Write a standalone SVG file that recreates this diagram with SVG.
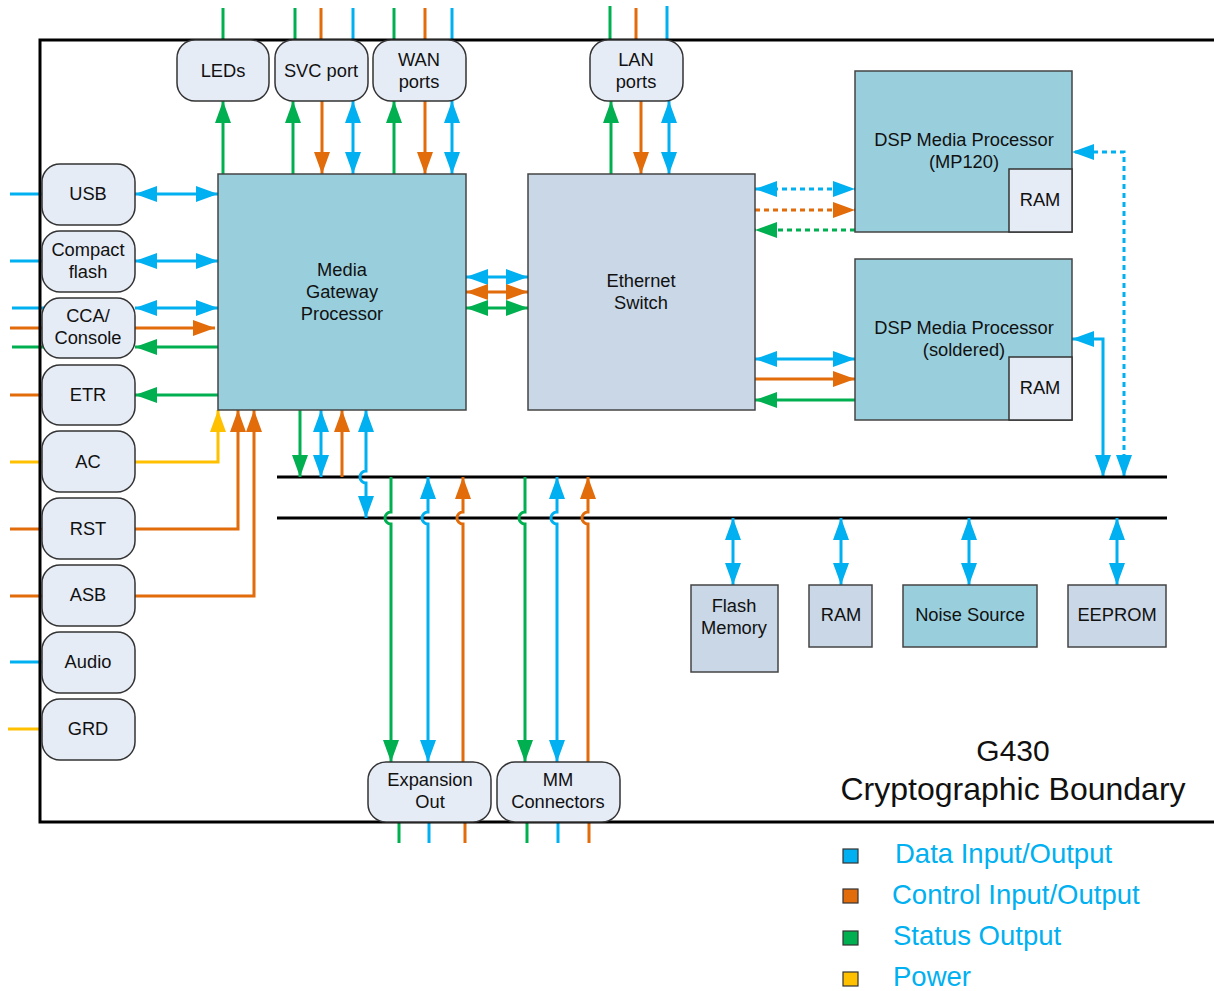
<svg xmlns="http://www.w3.org/2000/svg" width="1214" height="991" viewBox="0 0 1214 991">
<style>
text{font-family:"Liberation Sans",Arial,sans-serif;font-size:18.3px;fill:#111;text-anchor:middle}
.port{fill:#E6ECF6;stroke:#333;stroke-width:1.5}
.teal{fill:#99CFDD;stroke:#444;stroke-width:1.5}
.grey{fill:#C9D7E6;stroke:#444;stroke-width:1.5}
.ramb{fill:#E6ECF6;stroke:#333;stroke-width:1.5}
.c{fill:none;stroke-width:3}
.b{stroke:#00B0F0}.o{stroke:#E26B0A}.g{stroke:#00B050}.y{stroke:#FFC000}
.d{stroke-dasharray:5 4}
.bb{marker-start:url(#mb);marker-end:url(#mb)}
.eb{marker-end:url(#mb)}.eo{marker-end:url(#mo)}.eg{marker-end:url(#mg)}.ey{marker-end:url(#my)}
.so{marker-start:url(#mo)}.sg{marker-start:url(#mg)}
.bo{marker-start:url(#mo);marker-end:url(#mo)}.bg{marker-start:url(#mg);marker-end:url(#mg)}
.leg{font-size:27.5px;fill:#00B0F0;text-anchor:start}
</style>
<defs>
<marker id="mb" viewBox="0 0 22 16" markerWidth="22" markerHeight="16" refX="22" refY="8" orient="auto-start-reverse" markerUnits="userSpaceOnUse"><path d="M0,0L22,8L0,16z" fill="#00B0F0"/></marker>
<marker id="mo" viewBox="0 0 22 16" markerWidth="22" markerHeight="16" refX="22" refY="8" orient="auto-start-reverse" markerUnits="userSpaceOnUse"><path d="M0,0L22,8L0,16z" fill="#E26B0A"/></marker>
<marker id="mg" viewBox="0 0 22 16" markerWidth="22" markerHeight="16" refX="22" refY="8" orient="auto-start-reverse" markerUnits="userSpaceOnUse"><path d="M0,0L22,8L0,16z" fill="#00B050"/></marker>
<marker id="my" viewBox="0 0 22 16" markerWidth="22" markerHeight="16" refX="22" refY="8" orient="auto-start-reverse" markerUnits="userSpaceOnUse"><path d="M0,0L22,8L0,16z" fill="#FFC000"/></marker>
</defs>
<rect width="1214" height="991" fill="#fff"/>

<g id="connectors">
<path class="c g" d="M223,8V40"/>
<path class="c g" d="M295,8V40"/><path class="c o" d="M321,8V40"/><path class="c b" d="M353,8V40"/>
<path class="c g" d="M394,8V40"/><path class="c o" d="M425,8V40"/><path class="c b" d="M452,8V40"/>
<path class="c g" d="M610,6V40"/><path class="c o" d="M636,8V40"/><path class="c b" d="M667,6V40"/>
<path class="c g eg" d="M223,174V101"/>
<path class="c g eg" d="M293,174V101"/><path class="c o eo" d="M322,101V174"/><path class="c b bb" d="M353,101V174"/>
<path class="c g eg" d="M394,174V101"/><path class="c o eo" d="M425,101V174"/><path class="c b bb" d="M452,101V174"/>
<path class="c g eg" d="M611,174V101"/><path class="c o eo" d="M641,101V174"/><path class="c b bb" d="M669,101V174"/>
<path class="c b" d="M10,194H42"/><path class="c b" d="M10,261H42"/>
<path class="c b" d="M12,308H44"/><path class="c o" d="M10,328H42"/><path class="c g" d="M12,347H44"/>
<path class="c o" d="M10,395H42"/><path class="c y" d="M10,462H42"/><path class="c o" d="M10,529H42"/>
<path class="c o" d="M10,596H42"/><path class="c b" d="M10,662H42"/><path class="c y" d="M8,729H42"/>
<path class="c b bb" d="M135,194H218"/>
<path class="c b bb" d="M135,261H218"/>
<path class="c b bb" d="M135,308H218"/>
<path class="c o eo" d="M135,328H215"/>
<path class="c g eg" d="M218,347H135"/>
<path class="c g eg" d="M218,395H135"/>
<path class="c y ey" d="M135,462H218V410"/>
<path class="c o eo" d="M135,529H238V410"/>
<path class="c o eo" d="M135,596H254V410"/>
<path class="c b bb" d="M466,277H528"/>
<path class="c o bo" d="M466,292H528"/>
<path class="c g bg" d="M466,308H528"/>
<path class="c b d bb" d="M755,189H855"/>
<path class="c o d eo" d="M755,210H855"/>
<path class="c g d eg" d="M855,230H755"/>
<path class="c b bb" d="M755,359H855"/>
<path class="c o eo" d="M755,379H855"/>
<path class="c g eg" d="M855,400H755"/>
<path class="c b d bb" d="M1124,477V152H1072"/>
<path class="c b bb" d="M1103,477V339H1072"/>
<path fill="none" stroke="#000" stroke-width="3" d="M277,477H1167M277,518H1167"/>
<path class="c g eg" d="M300,410V477"/>
<path class="c b bb" d="M321,410V477"/>
<path class="c o eo" d="M342,477V410"/>
<path class="c b bb" d="M366,410V471A6,6 0 0 0 366,483V518"/>
<path class="c g eg" d="M391,477V512A6,6 0 0 0 391,524V762"/>
<path class="c b bb" d="M428,477V512A6,6 0 0 0 428,524V762"/>
<path class="c o so" d="M463,477V512A6,6 0 0 0 463,524V762"/>
<path class="c g eg" d="M525,477V512A6,6 0 0 0 525,524V762"/>
<path class="c b bb" d="M557,477V512A6,6 0 0 0 557,524V762"/>
<path class="c o so" d="M588,477V512A6,6 0 0 0 588,524V762"/>
<path class="c g" d="M399,822V843"/><path class="c b" d="M429,822V843"/><path class="c o" d="M465,822V843"/>
<path class="c g" d="M527,822V843"/><path class="c b" d="M558,822V843"/><path class="c o" d="M589,822V843"/>
<path class="c b bb" d="M733,518V585"/>
<path class="c b bb" d="M841,518V585"/>
<path class="c b bb" d="M969,518V585"/>
<path class="c b bb" d="M1117,518V585"/>
</g>

<g id="boundary">
<path fill="none" stroke="#000" stroke-width="3" d="M1214,40H40V822H1214"/>
<text x="1013" y="761" style="font-size:30px">G430</text>
<text x="1013" y="800" style="font-size:32px">Cryptographic Boundary</text>
</g>

<g id="leds"><rect class="port" x="177" y="40" width="92" height="61" rx="18"/><text x="223" y="77">LEDs</text></g>
<g id="svc"><rect class="port" x="275" y="40" width="93" height="61" rx="18"/><text x="321" y="77">SVC port</text></g>
<g id="wan"><rect class="port" x="373" y="40" width="93" height="61" rx="18"/><text x="419" y="66">WAN</text><text x="419" y="88">ports</text></g>
<g id="lan"><rect class="port" x="590" y="40" width="93" height="61" rx="18"/><text x="636" y="66">LAN</text><text x="636" y="88">ports</text></g>

<g id="usb"><rect class="port" x="42" y="164" width="93" height="61" rx="18"/><text x="88" y="200">USB</text></g>
<g id="cf"><rect class="port" x="42" y="231" width="93" height="61" rx="18"/><text x="88" y="256">Compact</text><text x="88" y="278">flash</text></g>
<g id="cca"><rect class="port" x="42" y="298" width="93" height="60" rx="18"/><text x="88" y="322">CCA/</text><text x="88" y="344">Console</text></g>
<g id="etr"><rect class="port" x="42" y="365" width="93" height="60" rx="18"/><text x="88" y="401">ETR</text></g>
<g id="ac"><rect class="port" x="42" y="431" width="93" height="61" rx="18"/><text x="88" y="468">AC</text></g>
<g id="rst"><rect class="port" x="42" y="498" width="93" height="61" rx="18"/><text x="88" y="535">RST</text></g>
<g id="asb"><rect class="port" x="42" y="565" width="93" height="61" rx="18"/><text x="88" y="601">ASB</text></g>
<g id="audio"><rect class="port" x="42" y="632" width="93" height="61" rx="18"/><text x="88" y="668">Audio</text></g>
<g id="grd"><rect class="port" x="42" y="699" width="93" height="61" rx="18"/><text x="88" y="735">GRD</text></g>

<g id="mgp"><rect class="teal" x="218" y="174" width="248" height="236"/><text x="342" y="276">Media</text><text x="342" y="298">Gateway</text><text x="342" y="320">Processor</text></g>
<g id="eth"><rect class="grey" x="528" y="174" width="227" height="236"/><text x="641" y="287">Ethernet</text><text x="641" y="309">Switch</text></g>

<g id="dsp1"><rect class="teal" x="855" y="71" width="217" height="161"/><text x="964" y="146">DSP Media Processor</text><text x="964" y="168">(MP120)</text>
<rect class="ramb" x="1009" y="169" width="63" height="63"/><text x="1040" y="206">RAM</text></g>
<g id="dsp2"><rect class="teal" x="855" y="259" width="217" height="161"/><text x="964" y="334">DSP Media Processor</text><text x="964" y="356">(soldered)</text>
<rect class="ramb" x="1009" y="357" width="63" height="63"/><text x="1040" y="394">RAM</text></g>

<g id="flash"><rect class="grey" x="691" y="585" width="87" height="87"/><text x="734" y="612">Flash</text><text x="734" y="634">Memory</text></g>
<g id="ram"><rect class="grey" x="809" y="585" width="63" height="62"/><text x="841" y="621">RAM</text></g>
<g id="noise"><rect class="teal" x="903" y="585" width="134" height="62"/><text x="970" y="621">Noise Source</text></g>
<g id="eeprom"><rect class="grey" x="1068" y="585" width="98" height="62"/><text x="1117" y="621">EEPROM</text></g>

<g id="exp"><rect class="port" x="368" y="762" width="123" height="60" rx="18"/><text x="430" y="786">Expansion</text><text x="430" y="808">Out</text></g>
<g id="mm"><rect class="port" x="497" y="762" width="123" height="60" rx="18"/><text x="558" y="786">MM</text><text x="558" y="808">Connectors</text></g>

<g id="legend">
<rect x="843" y="849" width="15" height="14" fill="#00B0F0" stroke="#333" stroke-width="1.2"/>
<rect x="843" y="889" width="15" height="14" fill="#E26B0A" stroke="#333" stroke-width="1.2"/>
<rect x="843" y="931" width="15" height="14" fill="#00B050" stroke="#333" stroke-width="1.2"/>
<rect x="843" y="972" width="15" height="14" fill="#FFC000" stroke="#333" stroke-width="1.2"/>
<text class="leg" x="895" y="863">Data Input/Output</text>
<text class="leg" x="892" y="904">Control Input/Output</text>
<text class="leg" x="893" y="945">Status Output</text>
<text class="leg" x="893" y="986">Power</text>
</g>
</svg>
